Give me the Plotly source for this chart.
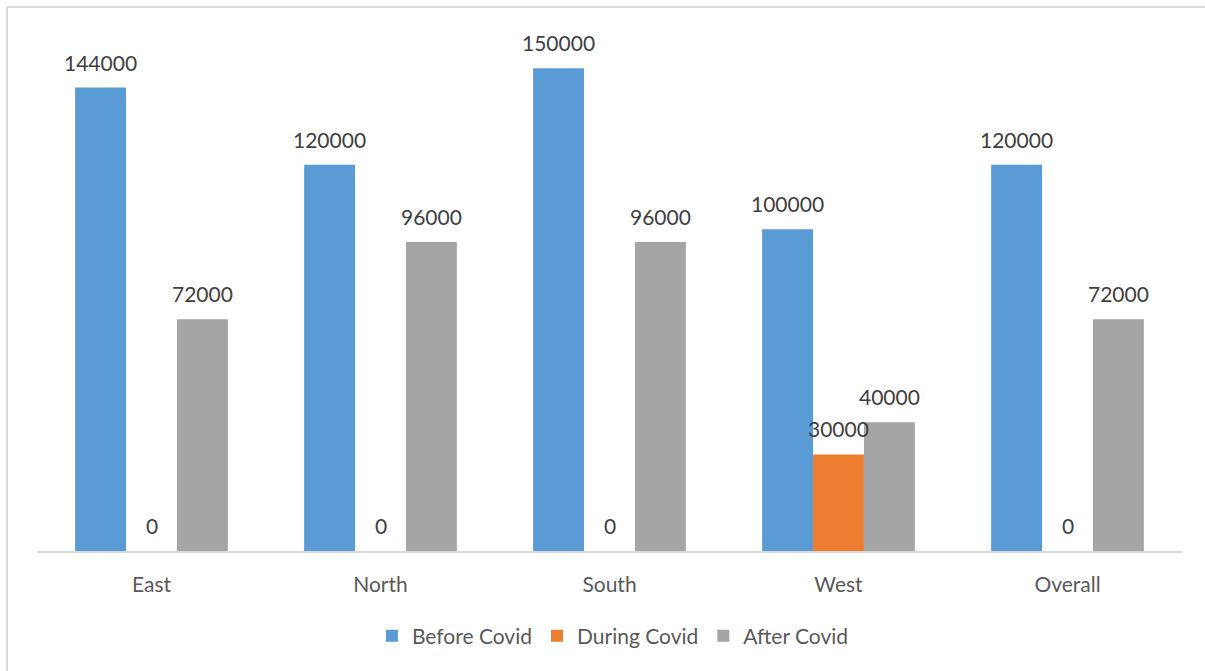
import plotly.graph_objects as go

# Regions and revenue by period
regions = ["East", "North", "South", "West", "Overall"]
before_covid = [144000, 120000, 150000, 100000, 120000]
during_covid = [0, 0, 0, 30000, 0]
after_covid = [72000, 96000, 96000, 40000, 72000]

series = [
    ("Before Covid", before_covid, "#5B9BD5"),
    ("During Covid", during_covid, "#ED7D31"),
    ("After Covid", after_covid, "#A5A5A5"),
]

FONT = "Lato"
W, H = 1205, 671
ML, MR, MT, MB = 37, 23, 36, 120
BARGAP = 0.333

fig = go.Figure()
for name, vals, color in series:
    fig.add_trace(go.Bar(
        name=name, x=regions, y=vals,
        marker=dict(color=color, line=dict(width=0)),
    ))

# Value labels above each bar, shifted to the bar's slot in the group
plot_w = W - ML - MR
bar_px = plot_w / len(regions) * (1 - BARGAP) / len(series)
for k, (name, vals, color) in enumerate(series):
    for r, v in zip(regions, vals):
        fig.add_annotation(
            x=r, y=v, xref="x", yref="y", text=str(v),
            showarrow=False, yanchor="bottom", yshift=11,
            xshift=(k - 1) * bar_px,
            font=dict(family=FONT, size=21, color="#404040"),
        )

# Chart border (top and left edges)
bx = -30 / plot_w
by = 1 + 29 / (H - MT - MB)
fig.add_shape(type="line", xref="paper", yref="paper", x0=bx, x1=1.1, y0=by, y1=by,
              line=dict(color="#D9D9D9", width=2))
fig.add_shape(type="line", xref="paper", yref="paper", x0=bx, x1=bx, y0=by, y1=-0.4,
              line=dict(color="#D9D9D9", width=2))

fig.update_layout(
    width=W, height=H,
    margin=dict(l=ML, r=MR, t=MT, b=MB),
    paper_bgcolor="white", plot_bgcolor="white",
    barmode="group", bargap=BARGAP, bargroupgap=0,
    font=dict(family=FONT, size=21, color="#595959"),
    showlegend=True,
    legend=dict(orientation="h", x=0.503, xanchor="center", y=-0.165, yanchor="middle",
                font=dict(family=FONT, size=21, color="#595959"),
                itemwidth=30, traceorder="normal"),
    xaxis=dict(showline=True, linecolor="#D9D9D9", linewidth=2, ticks="",
               showgrid=False, ticklabelstandoff=14,
               tickfont=dict(family=FONT, size=21, color="#595959")),
    yaxis=dict(range=[0, 160000], visible=False, showgrid=False, zeroline=False),
)

fig.write_html("out.html")
